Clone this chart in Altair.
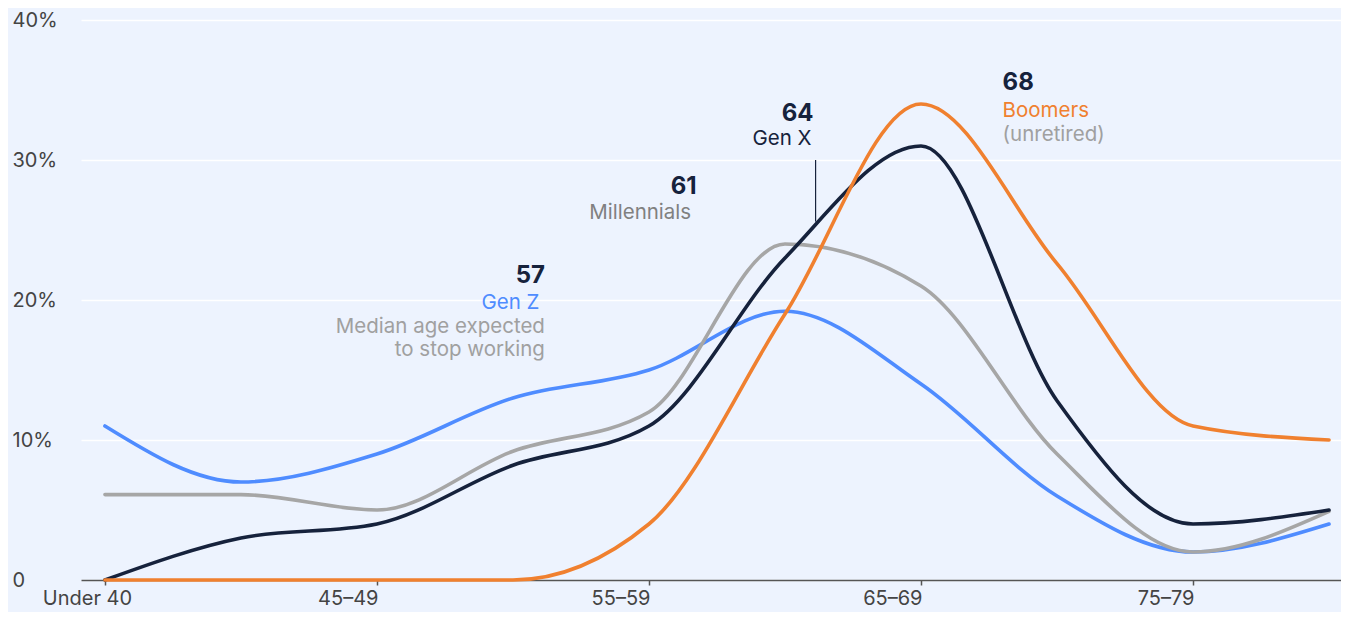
import altair as alt
import pandas as pd

# ---- data -------------------------------------------------------------
ages = ["Under 40", "40–44", "45–49", "50–54", "55–59",
        "60–64", "65–69", "70–74", "75–79", "80+"]
gen_z = [11, 7, 9, 13, 15, 19.2, 14, 6, 2, 4]
millennials = [6.1, 6.1, 5, 9.2, 12, 24, 21, 9, 2, 4.9]
gen_x = [0, 3, 4, 8.2, 11, 23, 31, 12.8, 4, 5]
boomers = [0, 0, 0, 0, 4, 19, 34, 22.6, 11, 10]

series_names = ["Gen Z", "Millennials", "Gen X", "Boomers"]
series_values = [gen_z, millennials, gen_x, boomers]
series_colors = ["#4F8CFF", "#A6A6A6", "#16223C", "#F0802F"]

tick_values = [0, 2, 4, 6, 8]
y_ticks = [0, 10, 20, 30, 40]

# annotations (median ages)
ann_numbers = ["57", "61", "64", "68"]
ann_names = ["Gen Z", "Millennials", "Gen X", "Boomers"]

rows = []
for name, vals in zip(series_names, series_values):
    for i, v in enumerate(vals):
        rows.append({"gen": name, "x": i, "age": ages[i], "y": v})
df = pd.DataFrame(rows)

FONT = "Inter"
BG = "#EDF3FE"
NAVY = "#16223C"
GRAY_TXT = "#A0A0A0"

label_expr = "[" + ",".join("'" + a + "'" for a in ages) + "][datum.value]"

X_AXIS = alt.Axis(
    values=tick_values, labelExpr=label_expr, title=None, grid=False,
    domainColor="#555555", domainWidth=1.5, tickColor="#555555",
    tickSize=5, tickWidth=1.5, labelFontSize=20, labelColor="#444444",
    labelFont=FONT, labelPadding=3, labelAngle=0,
    labelAlign={"condition": {"test": "datum.value == 0", "value": "center"},
                "value": "right"},
    labelOffset={"condition": {"test": "datum.value == 0", "value": -18},
                 "value": 1},
)
Y_AXIS = alt.Axis(
    values=y_ticks,
    labelExpr="datum.value == 0 ? '0' : datum.value + '%'",
    title=None, domain=False, ticks=False, tickSize=0,
    grid=True, gridColor="#FFFFFF", gridWidth=1.5,
    labelAlign="left", labelBaseline="middle", labelPadding=69,
    labelFontSize=20, labelColor="#444444", labelFont=FONT,
)
X_SCALE = alt.Scale(domain=[-0.176, 9.088], nice=False, zero=False)
Y_SCALE = alt.Scale(domain=[0, 40], nice=False)


def xe():
    return alt.X("x:Q", scale=X_SCALE, axis=X_AXIS)


def ye():
    return alt.Y("y:Q", scale=Y_SCALE, axis=Y_AXIS)


base = alt.Chart(df)
layers = []
for name, col in zip(series_names, series_colors):
    layers.append(
        base.transform_filter(alt.datum.gen == name)
        .mark_line(interpolate="monotone", strokeWidth=3.6, color=col,
                   strokeCap="round")
        .encode(x=xe(), y=ye())
    )

# annotation tables
num_df = pd.DataFrame({
    "x": [3.235, 4.35, 5.21],
    "y": [21.7, 28.1, 33.3],
    "t": ann_numbers[:3],
})
num_left_df = pd.DataFrame({"x": [6.60], "y": [35.5], "t": ann_numbers[3:]})

name_right_df = pd.DataFrame({
    "x": [3.195, 3.235, 3.235, 4.31, 5.195],
    "y": [19.8, 18.1, 16.4, 26.2, 31.5],
    "t": [ann_names[0], "Median age expected", "to stop working",
          ann_names[1], ann_names[2]],
    "c": ["#4F8CFF", GRAY_TXT, GRAY_TXT, "#808080", NAVY],
})
name_left_df = pd.DataFrame({
    "x": [6.60, 6.60],
    "y": [33.5, 31.8],
    "t": [ann_names[3], "(unretired)"],
    "c": ["#F0802F", GRAY_TXT],
})
rule_df = pd.DataFrame({"x": [5.225], "y": [30.0], "y2": [25.6]})

nums_r = alt.Chart(num_df).mark_text(
    align="right", baseline="middle", font=FONT, fontSize=24,
    fontWeight="bold", color=NAVY
).encode(x=xe(), y=ye(), text="t:N")
nums_l = alt.Chart(num_left_df).mark_text(
    align="left", baseline="middle", font=FONT, fontSize=24,
    fontWeight="bold", color=NAVY
).encode(x=xe(), y=ye(), text="t:N")
names_r = alt.Chart(name_right_df).mark_text(
    align="right", baseline="middle", font=FONT, fontSize=20.5
).encode(x=xe(), y=ye(), text="t:N", color=alt.Color("c:N", scale=None))
names_l = alt.Chart(name_left_df).mark_text(
    align="left", baseline="middle", font=FONT, fontSize=20.5
).encode(x=xe(), y=ye(), text="t:N", color=alt.Color("c:N", scale=None))
rule = alt.Chart(rule_df).mark_rule(color=NAVY, strokeWidth=1.2).encode(
    x=xe(), y=ye(), y2="y2:Q"
)

chart = alt.layer(*layers, rule, nums_r, nums_l, names_r, names_l).properties(
    width=1260, height=560,
    autosize=alt.AutoSizeParams(type="none"),
    padding={"left": 73, "top": 12, "right": 0, "bottom": 32},
    background=BG,
).configure_view(stroke=None)

chart.save("out.html", embed_options={"renderer": "svg", "actions": False})
